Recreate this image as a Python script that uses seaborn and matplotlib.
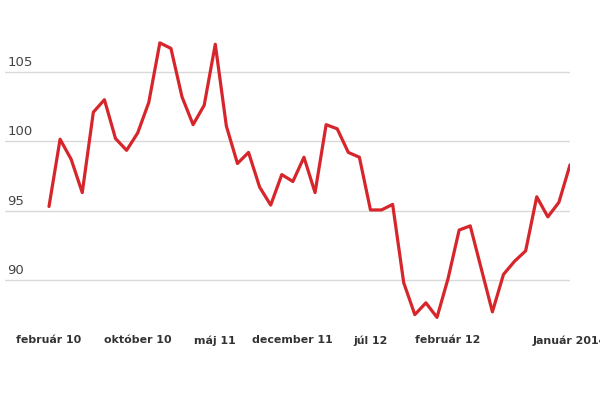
import matplotlib
matplotlib.use("Agg")
import matplotlib.pyplot as plt
import seaborn as sns
import pandas as pd
import numpy as np

# monthly index values, február 2010 .. január 2014
values = [95.3, 100.15, 98.7, 96.3, 102.1, 103.0, 100.2, 99.35, 100.6, 102.8,
          107.1, 106.7, 103.2, 101.2, 102.6, 107.0, 101.1, 98.4, 99.2, 96.7,
          95.4, 97.6, 97.1, 98.85, 96.3, 101.2, 100.9, 99.2, 98.85, 95.05,
          95.05, 95.45, 89.8, 87.5, 88.35, 87.3, 90.1, 93.6, 93.9, 90.8,
          87.7, 90.4, 91.35, 92.1, 96.0, 94.55, 95.6, 98.3]
month_index = list(range(len(values)))

tick_positions = [0, 8, 15, 22, 29, 36, 47]
tick_labels = ["február 10", "október 10", "máj 11", "december 11",
               "júl 12", "február 12", "Január 2014"]
y_ticks = [90, 95, 100, 105]

df = pd.DataFrame({"month": month_index, "value": values})

sns.set_style("white")
plt.rcParams['font.family'] = ['DejaVu Sans']

fig = plt.figure(figsize=(6, 4), dpi=100)
ax = fig.add_axes([5/600, 1 - 325/400, 565/600, 295/400])

for t in y_ticks:
    ax.axhline(t, color="#d9d9d9", linewidth=1.0, zorder=1)
    ax.text(0.004, t + 0.22, str(t), transform=ax.get_yaxis_transform(),
            ha="left", va="bottom", fontsize=9.5, color="#444444")

sns.lineplot(data=df, x="month", y="value", ax=ax, color="#d7262b",
             linewidth=2.3, zorder=3)

step = (570 - 49) / 47.0
ax.set_xlim(-(49 - 5) / step, 47)
px_per = 208 / 15.0
ax.set_ylim(100 - (325 - 141.3) / px_per, 100 + (141.3 - 30) / px_per)

ax.set_yticks([])
ax.set_xticks(tick_positions)
ax.set_xticklabels(tick_labels, fontsize=7.9, fontweight="bold", color="#333333")
ax.tick_params(axis="x", length=0, pad=7.5)
ax.set_xlabel("")
ax.set_ylabel("")
for s in ax.spines.values():
    s.set_visible(False)

fig.savefig("out.png", dpi=100)
